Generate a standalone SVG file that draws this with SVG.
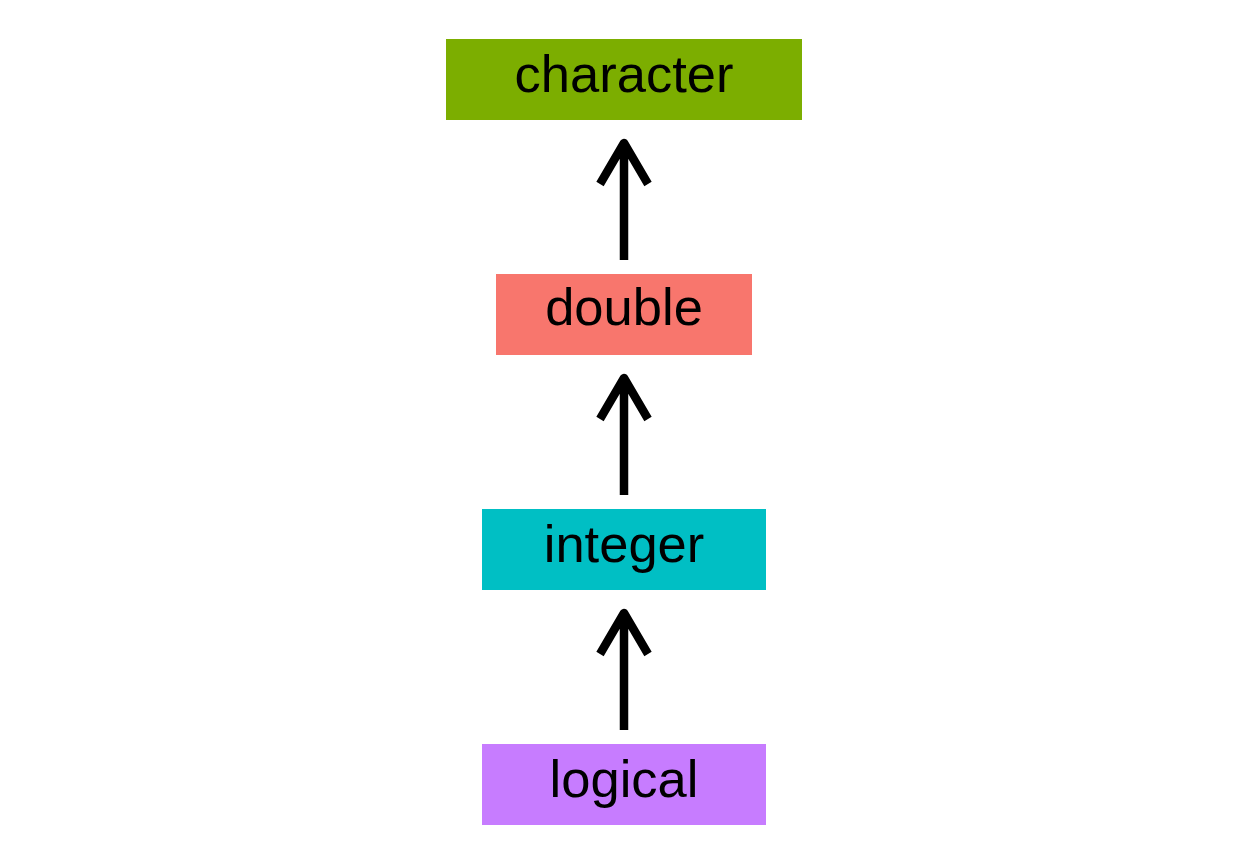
<svg xmlns="http://www.w3.org/2000/svg" width="1248" height="864" viewBox="0 0 1248 864">
<style>
.lbl{font-family:"Liberation Sans",Arial,sans-serif;font-size:52.5px;fill:#000;text-anchor:middle}
.arr{fill:none;stroke:#000;stroke-width:8.5;stroke-linejoin:round;stroke-linecap:butt}
</style>
<rect width="1248" height="864" fill="#ffffff"/>
<g id="connectors">
<path class="arr" d="M624 260V143M600 184L624 143L648 184"/>
<path class="arr" d="M624 495V378M600 419L624 378L648 419"/>
<path class="arr" d="M624 730V613M600 654L624 613L648 654"/>
</g>
<g id="character">
<rect x="446" y="39" width="356" height="81" fill="#7CAE00"/>
<text class="lbl" x="624" y="92">character</text>
</g>
<g id="double">
<rect x="496" y="274" width="256" height="81" fill="#F8766D"/>
<text class="lbl" x="624" y="325">double</text>
</g>
<g id="integer">
<rect x="482" y="509" width="284" height="81" fill="#00BFC4"/>
<text class="lbl" x="624" y="562">integer</text>
</g>
<g id="logical">
<rect x="482" y="744" width="284" height="81" fill="#C77CFF"/>
<text class="lbl" x="624" y="797">logical</text>
</g>
</svg>
